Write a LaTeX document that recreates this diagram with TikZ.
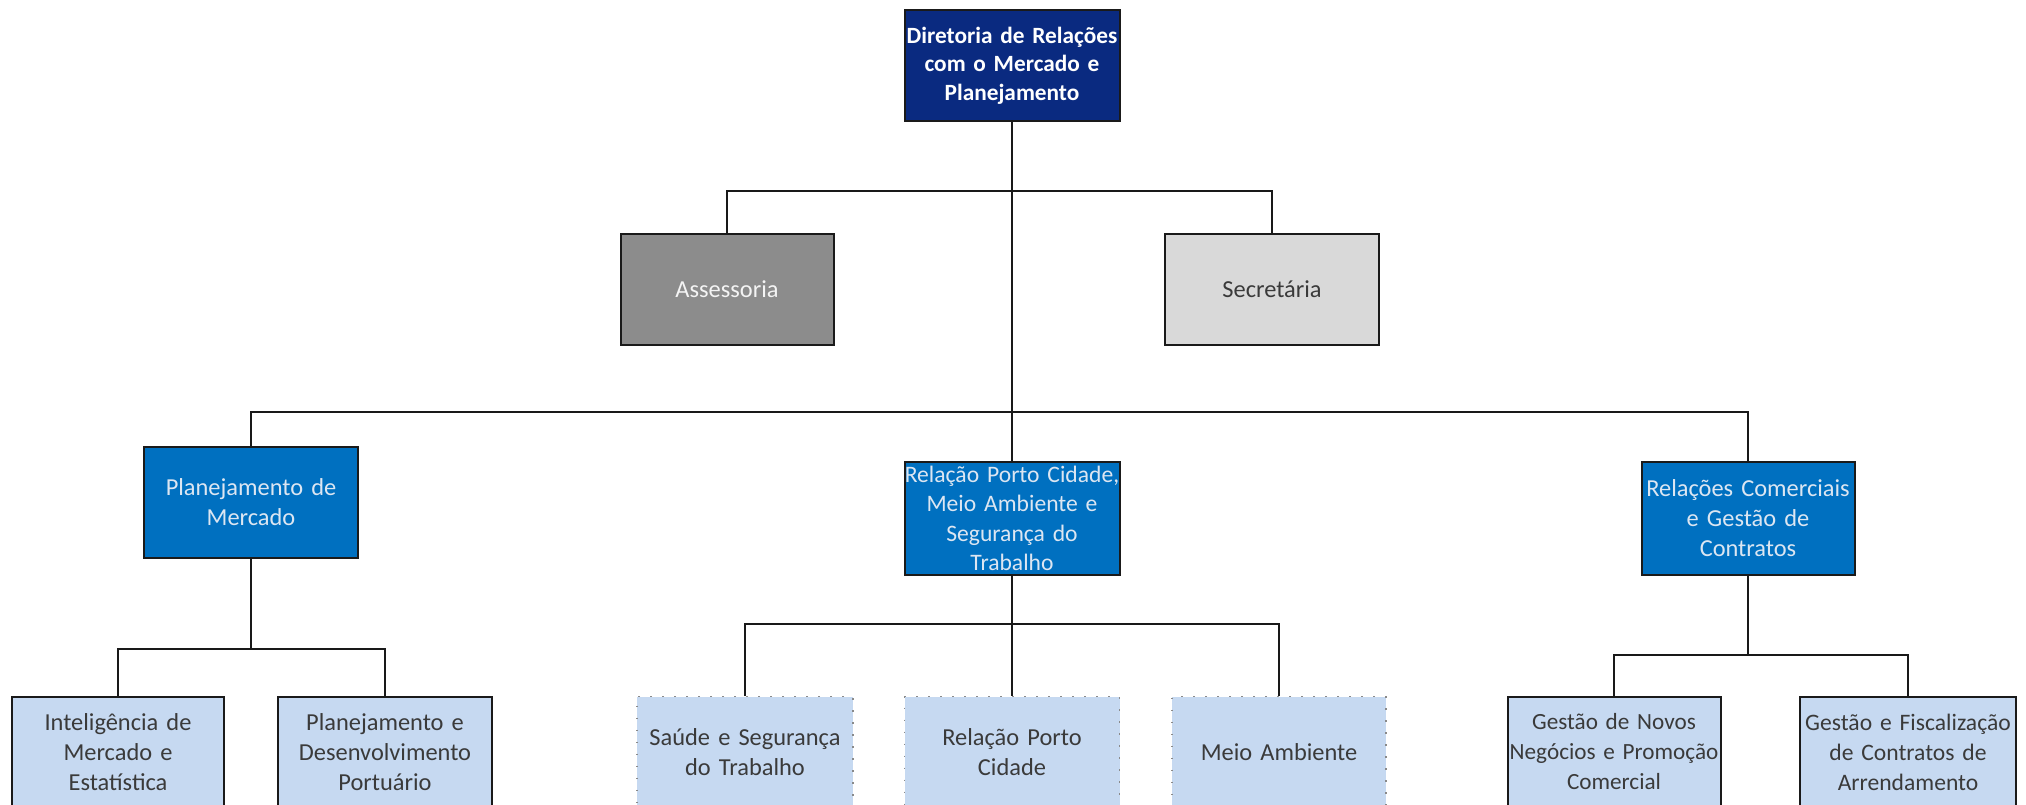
\documentclass[tikz,border=0pt]{standalone}
\usepackage{fontspec}
\setmainfont{Carlito}
\definecolor{navy}{HTML}{0A2A80}
\definecolor{midblue}{HTML}{0070C0}
\definecolor{darkgray}{HTML}{8C8C8C}
\definecolor{lightgray}{HTML}{D9D9D9}
\definecolor{paleblue}{HTML}{C6D9F1}
\definecolor{boxline}{HTML}{1A1A1A}
\definecolor{paletext}{HTML}{DCE6F2}
\definecolor{darktext}{HTML}{3A3A3A}
\definecolor{dotline}{HTML}{8A8A8A}
\begin{document}
\begin{tikzpicture}[x=1pt,y=-1pt,
  box/.style={rectangle, draw=boxline, line width=2pt, inner sep=0pt, align=center,
    minimum height=111pt, font=\fontsize{24.4}{30}\selectfont},
  topbox/.style={box, fill=navy, text=white, text width=215pt, minimum width=215pt,
    font=\bfseries\fontsize{23.3}{28.5}\selectfont},
  bluebox/.style={box, fill=midblue, text=paletext, minimum height=113pt},
  childbox/.style={box, fill=paleblue, text=darktext},
  dotbox/.style={childbox, draw=dotline, line width=1.6pt, dash pattern=on 1.6pt off 10.4pt},
  conn/.style={draw=black!90, line width=2pt}
]
\useasboundingbox (0,0) rectangle (2026,805);
\clip (0,0) rectangle (2026,805);
\fill[white] (0,0) rectangle (2026,805);

% coordinates for branch levels
\coordinate (b1) at (0,191);
\coordinate (b2) at (0,412);
\coordinate (b3) at (0,649);
\coordinate (b4) at (0,624);
\coordinate (b5) at (0,655);

% level 0
\node[topbox] (top) at (1012,65.5) {Diretoria de Relações\\com o Mercado e\\Planejamento};

% staff
\node[box, fill=darkgray, text=white!90!darkgray, minimum width=213pt, text width=213pt] (ass) at (727,289.5) {Assessoria};
\node[box, fill=lightgray, text=darktext, minimum width=214pt, text width=214pt] (sec) at (1272,289.5) {Secretária};

% level 1
\node[bluebox, minimum width=214pt, text width=214pt, minimum height=111pt] (pm) at (251,502.5) {Planejamento de\\Mercado};
\node[bluebox, minimum width=215pt, text width=215pt, font=\fontsize{23.6}{29.5}\selectfont] (mid) at (1012,518.5) {Relação Porto Cidade,\\Meio Ambiente e\\Segurança do\\Trabalho};
\node[bluebox, minimum width=213pt, text width=213pt] (rc) at (1748,518.5) {Relações Comerciais\\e Gestão de\\Contratos};

% level 2
\node[childbox, minimum width=212pt, text width=212pt] (c1) at (118,752) {Inteligência de\\Mercado e\\Estatística};
\node[childbox, minimum width=214pt, text width=214pt] (c2) at (385,752) {Planejamento e\\Desenvolvimento\\Portuário};
\node[dotbox, minimum width=216pt, text width=216pt] (m1) at (745,752) {Saúde e Segurança\\do Trabalho};
\node[dotbox, minimum width=215pt, text width=215pt] (m2) at (1012,752) {Relação Porto\\Cidade};
\node[dotbox, minimum width=214pt, text width=214pt] (m3) at (1279,752) {Meio Ambiente};
\node[childbox, minimum width=213pt, text width=213pt, font=\fontsize{23.2}{30}\selectfont] (r1) at (1614,752) {Gestão de Novos\\\mbox{Negócios e Promoção}\\Comercial};
\node[childbox, minimum width=216pt, text width=216pt, font=\fontsize{23.6}{30}\selectfont] (r2) at (1908,752) {Gestão e Fiscalização\\de Contratos de\\Arrendamento};

% connectors
\draw[conn] (top.south) -- (mid.north);
\draw[conn] (ass.north) |- (top.south|-b1) -| (sec.north);
\draw[conn] (pm.north) |- (mid.north|-b2) -| (rc.north);
\draw[conn] (pm.south) -- (pm.south|-b3);
\draw[conn] (c1.north) |- (pm.south|-b3) -| (c2.north);
\draw[conn] (mid.south) -- (m2.north);
\draw[conn] (m1.north) |- (mid.south|-b4) -| (m3.north);
\draw[conn] (rc.south) -- (rc.south|-b5);
\draw[conn] (r1.north) |- (rc.south|-b5) -| (r2.north);
\end{tikzpicture}
\end{document}
